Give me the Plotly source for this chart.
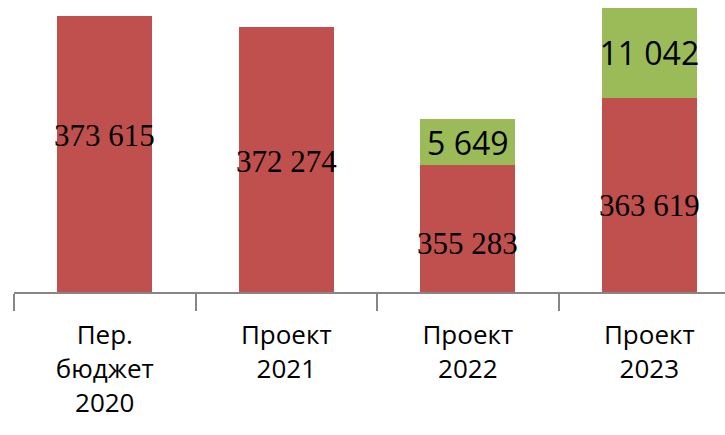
import plotly.graph_objects as go

categories = ["Пер.<br>бюджет<br>2020", "Проект<br>2021", "Проект<br>2022", "Проект<br>2023"]
base_values = [373615, 372274, 355283, 363619]
extra_values = [None, None, 5649, 11042]

Y_MIN, Y_MAX = 339700, 375616
# pixel nudges of the red value labels relative to the visible-bar centre
label_nudge = [19, -2, -15, -11]

def fmt(v):
    return "" if v is None else f"{v:,}".replace(",", " ")

fig = go.Figure()
fig.add_trace(go.Bar(
    x=categories, y=base_values, marker=dict(color="#C0504D", line=dict(width=0)),
    hoverinfo="skip",
))
fig.add_trace(go.Bar(
    x=categories, y=extra_values, marker=dict(color="#9BBB59", line=dict(width=0)),
    text=[fmt(v) for v in extra_values], textposition="inside",
    insidetextanchor="middle", constraintext="none",
    textfont=dict(family="Open Sans", size=32, color="black"),
))

for cat, v, dy in zip(categories, base_values, label_nudge):
    fig.add_annotation(
        x=cat, y=(Y_MIN + v) / 2, text=fmt(v), showarrow=False,
        yshift=dy, xanchor="center", yanchor="middle",
        font=dict(family="Liberation Serif", size=31, color="black"),
    )

fig.update_layout(
    barmode="stack", bargap=0.477, showlegend=False,
    width=725, height=435, margin=dict(l=14, r=0, t=0, b=143),
    plot_bgcolor="white", paper_bgcolor="white",
)
fig.update_xaxes(
    type="category", range=[-0.5, 3.417], tickson="boundaries",
    ticks="outside", ticklen=17, tickcolor="#868686", tickwidth=1.5,
    showline=True, linecolor="#868686", linewidth=1.5, showgrid=False,
    ticklabelstandoff=19,
    tickfont=dict(family="Open Sans", size=26, color="black"),
)
fig.update_yaxes(visible=False, range=[Y_MIN, Y_MAX], showgrid=False)

fig.write_html("out.html")
